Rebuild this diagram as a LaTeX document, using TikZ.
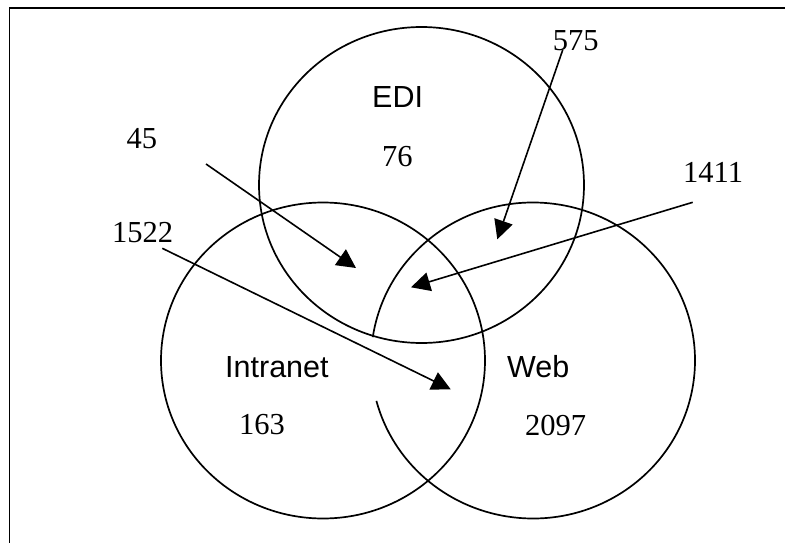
\documentclass[tikz,border=0pt]{standalone}
\usepackage{fontspec}
\newfontfamily\timesf{Liberation Serif}
\newfontfamily\arialf{Liberation Sans}
\usetikzlibrary{arrows.meta}
\begin{document}
\begin{tikzpicture}[x=1pt,y=-1pt,
  ring/.style={line width=1.7pt},
  pointer/.style={line width=1.6pt,-{Triangle[length=19pt,width=19pt]}},
  num/.style={inner sep=0pt,anchor=base west,font=\timesf\fontsize{30.5}{36}\selectfont},
  lbl/.style={inner sep=0pt,anchor=base west,font=\arialf\fontsize{30.5}{36}\selectfont}]
\useasboundingbox (0,0) rectangle (785,543);
% frame (cut at right and bottom)
\coordinate (fbl) at (9.5,545);
\coordinate (ftl) at (9.5,8);
\coordinate (ftr) at (787,8);
\draw[line width=1.8pt] (fbl) -- (ftl) -- (ftr);
% ellipse centres
\coordinate (edi) at (421.5,185);
\coordinate (intra) at (323,360.5);
\coordinate (web) at (533,360.5);
\draw[ring] (edi) ellipse [x radius=162.5, y radius=158];
\draw[ring] (intra) ellipse [x radius=162, y radius=158];
\draw[ring] (web) ++(188.5:162 and 158) arc [start angle=188.5, end angle=525.2, x radius=162, y radius=158];
% labels
\node[lbl] (tEDI) at (372,107) {EDI};
\node[num] (t76) at (382,166) {76};
\node[lbl] (tIntra) at (225,377) {Intranet};
\node[lbl] (tWeb) at (507,377) {Web};
\node[num] (t163) at (239,434) {163};
\node[num] (t2097) at (525,435) {2097};
\node[num] (t45) at (126.5,148.5) {45};
\node[num] (t575) at (552.7,50.5) {575};
\node[num] (t1411) at (683,182) {1411};
\node[num] (t1522) at (112,242) {1522};
% arrows
\coordinate (s45) at (206,164);   \coordinate (e45) at (356,268);
\coordinate (s575) at (562.7,50); \coordinate (e575) at (497.3,239.3);
\coordinate (s1411) at (692.7,202.3); \coordinate (e1411) at (411,287.3);
\coordinate (s1522) at (162.3,248.3); \coordinate (e1522) at (450.7,389.3);
\draw[pointer] (s45) -- (e45);
\draw[pointer] (s575) -- (e575);
\draw[pointer] (s1411) -- (e1411);
\draw[pointer] (s1522) -- (e1522);
\end{tikzpicture}
\end{document}
